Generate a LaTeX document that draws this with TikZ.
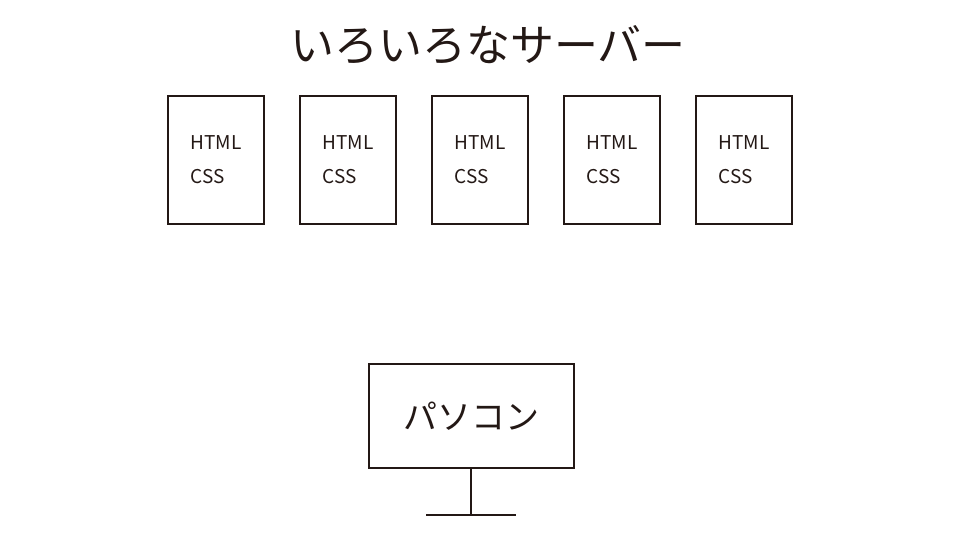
\documentclass[tikz,border=0pt]{standalone}
\usepackage{fontspec}
\setmainfont{Noto Sans CJK JP}
\usetikzlibrary{positioning}
\definecolor{inkdark}{RGB}{35,24,21}

\begin{document}
\begin{tikzpicture}[x=1pt,y=-1pt,node distance=34pt,text=inkdark]
		\tikzstyle{server}=[draw=inkdark,line width=2pt,minimum width=96pt,minimum height=128pt,align=left,font=\fontsize{19}{34}\selectfont]
		\tikzstyle{screen}=[draw=inkdark,line width=2pt,minimum width=205pt,minimum height=104pt,font=\fontsize{34}{40}\selectfont]
		\tikzstyle{stand}=[draw=inkdark,line width=2pt]
		\useasboundingbox (0,0) rectangle (960,540);
		
		\node[font=\fontsize{44}{50}\selectfont] (title) at (488,45) {いろいろなサーバー};
		\node[server] (S1) at (216,160)      {HTML\\CSS};
		\node[server] (S2) [right=of S1]     {HTML\\CSS};
		\node[server] (S3) [right=of S2]     {HTML\\CSS};
		\node[server] (S4) [right=of S3]     {HTML\\CSS};
		\node[server] (S5) [right=of S4]     {HTML\\CSS};
		
		\node[screen] (PC) at (471,416) {パソコン};
		\coordinate (foot) at (471,515);
		\coordinate (footL) at (426,515);
		\coordinate (footR) at (516,515);
		
		\draw[stand] (PC.south) -- (foot);
		\draw[stand] (footL) -- (footR);
	\end{tikzpicture}
\end{document}
